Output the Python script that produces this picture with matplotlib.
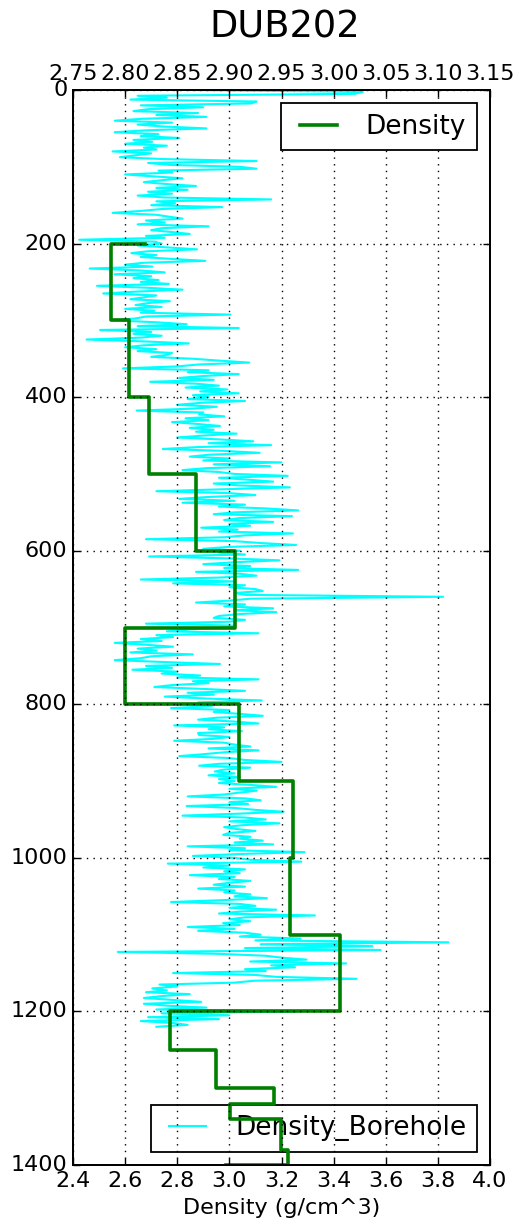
import numpy as np
import matplotlib
matplotlib.use("Agg")
import matplotlib.pyplot as plt
from matplotlib.ticker import FormatStrFormatter

# ---------------- data ----------------
title = "DUB202"
xlabel = "Density (g/cm^3)"

# Borehole density log (g/cm^3 * 1000), sampled every 2.5 m from 0 m
borehole_0_100 = [2860, 3028, 3020, 2812, 2840, 2805, 2926, 2921, 2815, 2875,
                  2822, 2808, 2870, 2830, 2878, 2816, 2790, 2845, 2812, 2836,
                  2878, 2820, 2790, 2832, 2815, 2852, 2808, 2826, 2800, 2840,
                  2818, 2830, 2788, 2825, 2810, 2795, 2838, 2926, 2822, 2842]
borehole_100_200 = [2910, 2926, 2832, 2845, 2800, 2828, 2855, 2835, 2818, 2840,
                    2868, 2830, 2860, 2822, 2845, 2812, 2838, 2940, 2830, 2848,
                    2825, 2893, 2835, 2815, 2788, 2830, 2842, 2855, 2820, 2838,
                    2812, 2880, 2835, 2825, 2845, 2862, 2820, 2838, 2756, 2828]
borehole_200_300 = [2835, 2812, 2840, 2869, 2822, 2806, 2830, 2815, 2845, 2877,
                    2818, 2800, 2826, 2766, 2815, 2838, 2790, 2825, 2808, 2832,
                    2815, 2842, 2773, 2820, 2855, 2812, 2779, 2830, 2818, 2805,
                    2843, 2822, 2810, 2835, 2800, 2828, 2815, 2901, 2820, 2810]
borehole_300_400 = [2789, 2830, 2859, 2812, 2909, 2776, 2825, 2808, 2835, 2815,
                    2763, 2820, 2861, 2818, 2800, 2830, 2812, 2845, 2840, 2825,
                    2865, 2891, 2919, 2870, 2850, 2798, 2880, 2860, 2909, 2875,
                    2852, 2885, 2824, 2868, 2890, 2858, 2898, 2872, 2909, 2865]
borehole_400_500 = [2880, 2860, 2915, 2872, 2850, 2888, 2865, 2811, 2875, 2871,
                    2895, 2858, 2880, 2845, 2870, 2891, 2862, 2885, 2868, 2907,
                    2876, 2850, 2890, 2923, 2880, 2940, 2870, 2836, 2895, 2929,
                    2880, 2862, 2900, 2875, 2950, 2885, 2939, 2878, 2855, 2890]
borehole_500_600 = [2905, 2956, 2890, 2918, 2942, 2885, 2910, 2958, 2895, 2830,
                    2900, 2925, 2880, 2852, 2905, 2855, 2915, 2890, 2936, 2966,
                    2905, 2885, 2960, 2910, 2895, 2942, 2900, 2920, 2873, 2908,
                    2890, 2961, 2915, 2895, 2820, 2905, 2930, 2964, 2900, 2875]
borehole_600_700 = [2910, 2890, 2915, 2823, 2900, 2948, 2905, 2875, 2920, 2895,
                    2966, 2868, 2910, 2926, 2890, 2815, 2905, 2846, 2915, 2900,
                    2925, 2932, 2905, 2915, 3105, 2920, 2900, 2868, 2915, 2895,
                    2942, 2905, 2945, 2910, 2890, 2885, 2915, 2900, 2820, 2905]
borehole_700_800 = [2900, 2860, 2840, 2928, 2830, 2846, 2815, 2835, 2790, 2820,
                    2846, 2812, 2830, 2805, 2865, 2825, 2815, 2790, 2838, 2891,
                    2820, 2845, 2807, 2850, 2835, 2872, 2850, 2928, 2865, 2880,
                    2845, 2828, 2875, 2915, 2860, 2885, 2838, 2878, 2931, 2870]
borehole_800_900 = [2890, 2880, 2844, 2900, 2885, 2910, 2932, 2888, 2870, 2905,
                    2928, 2847, 2895, 2880, 2912, 2870, 2871, 2900, 2885, 2847,
                    2895, 2905, 2920, 2880, 2928, 2895, 2875, 2852, 2900, 2915,
                    2950, 2890, 2871, 2920, 2895, 2886, 2905, 2880, 2910, 2890]
borehole_900_1000 = [2905, 2890, 2920, 2945, 2900, 2926, 2910, 2895, 2860, 2915,
                     2930, 2900, 2918, 2859, 2905, 2925, 2952, 2908, 2855, 2915,
                     2935, 2900, 2948, 2912, 2895, 2907, 2925, 2900, 2894, 2920,
                     2910, 2932, 2905, 2942, 2860, 2915, 2900, 2972, 2910, 2865]
borehole_1000_1100 = [2905, 2920, 2969, 2841, 2900, 2875, 2915, 2895, 2910, 2862,
                      2905, 2890, 2920, 2900, 2885, 2915, 2870, 2905, 2895, 2920,
                      2905, 2936, 2895, 2844, 2910, 2925, 2900, 2945, 2910, 2890,
                      2982, 2915, 2900, 2920, 2894, 2910, 2860, 2905, 2870, 2915]
borehole_1100_1200 = [2930, 2910, 2968, 2925, 3110, 2930, 3037, 2915, 3045, 2793,
                      2890, 2935, 2950, 2974, 2920, 3012, 2940, 2963, 2915, 2935,
                      2846, 2925, 2945, 3022, 2924, 2905, 2833, 2850, 2826, 2840,
                      2820, 2862, 2835, 2818, 2845, 2873, 2818, 2840, 2878, 2830]
borehole_1200_1220 = [2964, 2835, 2900, 2822, 2890, 2815, 2845, 2860, 2830]

borehole_step_m = 2.5

# Layered density model (step line), vertices (density, depth)
layer_depth = [200, 300, 400, 500, 600, 700, 800, 900, 1000, 1100, 1200,
               1250, 1300, 1320, 1340, 1380, 1400, 1400]
layer_density = [2.676, 2.545, 2.615, 2.692, 2.871, 3.023, 2.598, 3.036,
                 3.244, 3.234, 3.423, 2.771, 2.947, 3.171, 3.004, 3.199,
                 3.225, 2.988]

bottom_ticks = [2.4, 2.6, 2.8, 3.0, 3.2, 3.4, 3.6, 3.8, 4.0]
top_ticks = [2.75, 2.80, 2.85, 2.90, 2.95, 3.00, 3.05, 3.10, 3.15]
depth_ticks = [0, 200, 400, 600, 800, 1000, 1200, 1400]

# ---------------- build ----------------
borehole = np.array(borehole_0_100 + borehole_100_200 + borehole_200_300 +
                    borehole_300_400 + borehole_400_500 + borehole_500_600 +
                    borehole_600_700 + borehole_700_800 + borehole_800_900 +
                    borehole_900_1000 + borehole_1000_1100 +
                    borehole_1100_1200 + borehole_1200_1220) / 1000.0
borehole_depth = np.arange(len(borehole)) * borehole_step_m

plt.style.use("classic")
plt.rcParams["font.family"] = ["DejaVu Sans"]
plt.rcParams["axes.linewidth"] = 1.3

fig = plt.figure(figsize=(5.2, 12.26), dpi=100, facecolor="white")
ax = fig.add_axes([73 / 520, 1 - 1165 / 1226, 417 / 520, 1075 / 1226])
ax2 = ax.twiny()

# cyan borehole log on the top axis, drawn underneath
ax2.plot(borehole, borehole_depth, color="cyan", lw=1.5, label="Density_Borehole")
ax2.set_xlim(2.75, 3.15)
ax2.set_xticks(top_ticks)
ax2.xaxis.set_major_formatter(FormatStrFormatter("%.2f"))
leg2 = ax2.legend(loc="lower right", fontsize=19, numpoints=2)
leg2.get_frame().set_linewidth(1.3)

# green step model on the bottom axis, drawn on top
ax.set_zorder(ax2.get_zorder() + 1)
ax.patch.set_visible(False)
ax.plot(layer_density, layer_depth, color="green", lw=2.6,
        drawstyle="steps-post", label="Density")
ax.set_xlim(2.4, 4.0)
ax.set_xticks(bottom_ticks)
ax.xaxis.set_major_formatter(FormatStrFormatter("%.1f"))
ax.set_ylim(1400, 0)
ax.set_yticks(depth_ticks)
ax.grid(True, color="black", linestyle=(0, (1.0, 3.8)), linewidth=1.0)
leg = ax.legend(loc="upper right", fontsize=19, numpoints=2)
leg.get_frame().set_linewidth(1.3)
ax.set_xlabel(xlabel, fontsize=16)

for a in (ax, ax2):
    a.tick_params(labelsize=16, direction="in", length=5, width=1.0)
ax.tick_params(axis="y", right=True, left=True)

fig.text(285 / 520, 1 - 37 / 1226, title, fontsize=26.5, ha="center", va="baseline")

fig.savefig("out.png", dpi=100, facecolor="white")
